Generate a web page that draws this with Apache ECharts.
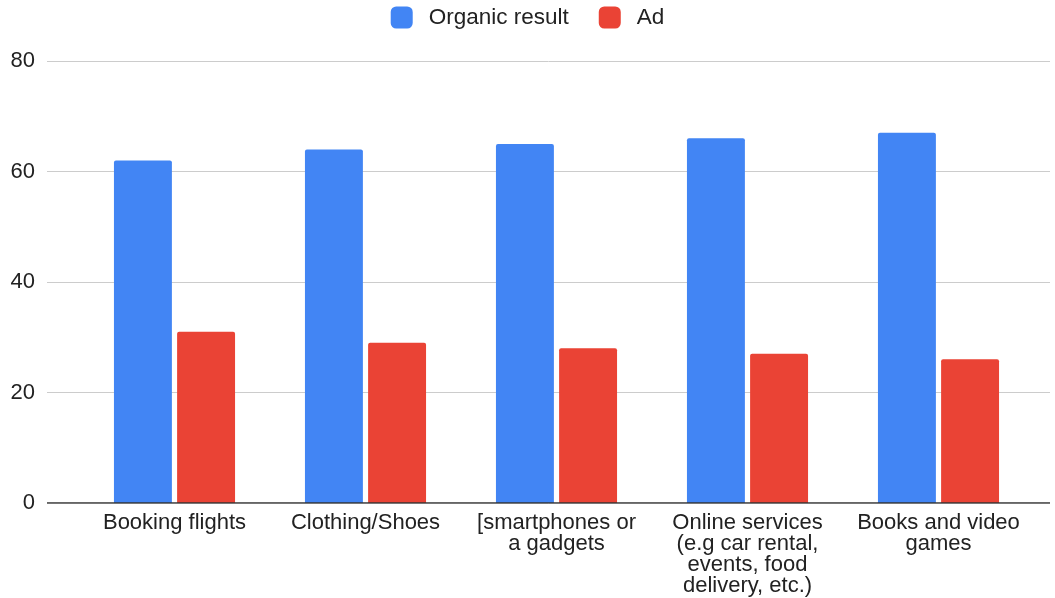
<!DOCTYPE html>
<html>
<head>
<meta charset="utf-8">
<script src="https://cdn.jsdelivr.net/npm/echarts@6/dist/echarts.min.js"></script>
<style>html,body{margin:0;padding:0;background:#fff}#c{width:1055px;height:598px}</style>
</head>
<body>
<div id="c"></div>
<script>
const categories = ['Booking flights', 'Clothing/Shoes', '[smartphones or\na gadgets', 'Online services\n(e.g car rental,\nevents, food\ndelivery, etc.)', 'Books and video\ngames'];
const organic = [62, 64, 65, 66, 67];
const ad = [31, 29, 28, 27, 26];
const yTicks = [0, 20, 40, 60, 80];

const chart = echarts.init(document.getElementById('c'));
const font = 'Liberation Sans, Arial, sans-serif';
chart.setOption({
  animation: false,
  legend: {
    top: 1, left: 'center',
    itemWidth: 22, itemHeight: 22, itemGap: 30,
    icon: 'roundRect',
    textStyle: { fontSize: 22.5, color: '#222', fontFamily: font, padding: [0, 0, 0, 11] },
    data: ['Organic result', 'Ad']
  },
  grid: [
    { left: 47, right: 5, top: 61, bottom: 95, containLabel: false, outerBoundsMode: 'none' },
    { left: 79, right: 21, top: 61, bottom: 95, containLabel: false, outerBoundsMode: 'none' }
  ],
  xAxis: [
    { type: 'value', gridIndex: 0, show: false, min: 0, max: 1 },
    { type: 'category', gridIndex: 1, data: categories,
      axisLine: { show: false }, axisTick: { show: false },
      axisLabel: { fontSize: 22, color: '#222', fontFamily: font, lineHeight: 21, margin: 9, interval: 0 } }
  ],
  yAxis: [
    { type: 'value', gridIndex: 0, min: 0, max: 80, interval: 20,
      axisLine: { show: false }, axisTick: { show: false },
      axisLabel: { fontSize: 22, color: '#222', fontFamily: font, margin: 12 },
      splitLine: { lineStyle: { color: '#cccccc', width: 1 } } },
    { type: 'value', gridIndex: 1, min: 0, max: 80, interval: 20, show: false, splitLine: { show: false } }
  ],
  series: [
    { name: 'Organic result', type: 'bar', xAxisIndex: 1, yAxisIndex: 1, data: organic,
      itemStyle: { color: '#4285F4', borderRadius: [2, 2, 0, 0] }, barGap: '9%', barCategoryGap: '36.6%' },
    { name: 'Ad', type: 'bar', xAxisIndex: 1, yAxisIndex: 1, data: ad,
      itemStyle: { color: '#EA4335', borderRadius: [2, 2, 0, 0] } },
    { type: 'line', xAxisIndex: 0, yAxisIndex: 0, data: [[0, 0], [1, 0]], symbol: 'none', silent: true,
      lineStyle: { color: '#333', width: 1.5 }, z: 5, tooltip: { show: false } }
  ]
});
</script>
</body>
</html>
